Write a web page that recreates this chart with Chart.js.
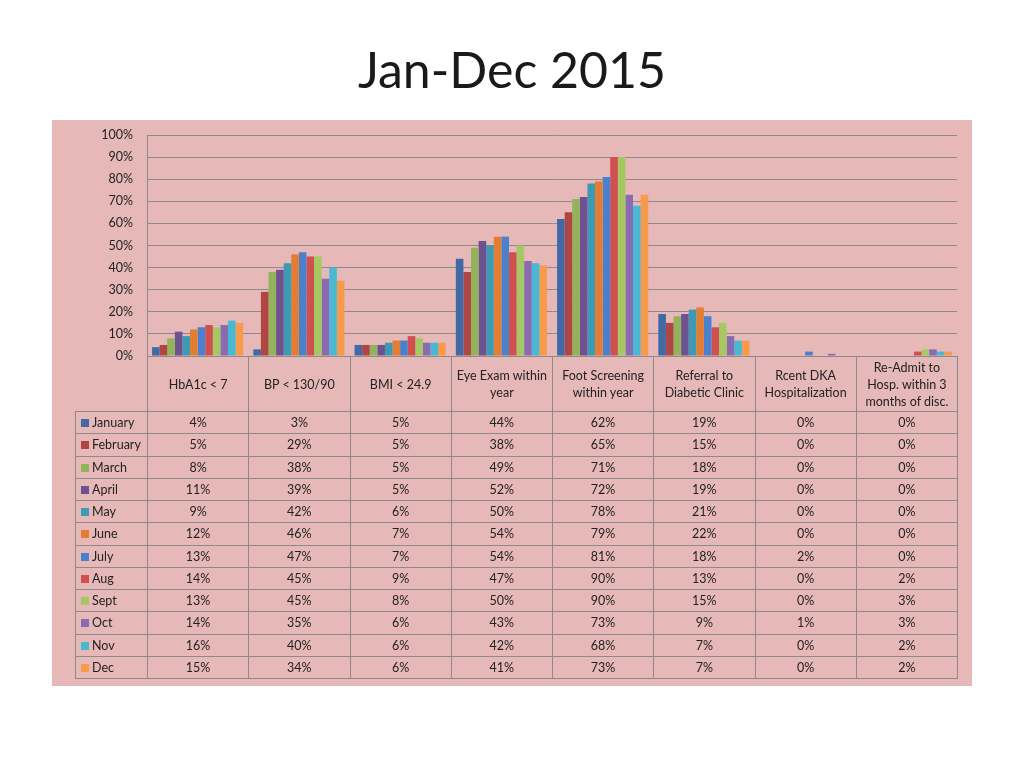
<!DOCTYPE html>
<html>
<head>
<meta charset="utf-8">
<script src="https://cdn.jsdelivr.net/npm/chart.js@4"></script>
<style>
  body { margin: 0; background: #ffffff; font-family: Lato, "Noto Sans", sans-serif; }
  #title { position: absolute; left: 0; width: 1024px; top: 39px; text-align: center;
           font-size: 50px; color: #1a1a1a; margin: 0; font-weight: normal; }
  #panel { position: absolute; left: 52px; top: 120px; width: 920px; height: 566px; background: #e6b9b8; }
  #barChart { position: absolute; left: 0; top: 0; }
  #dataTable { position: absolute; left: 23px; top: 236px; border-collapse: collapse; table-layout: fixed;
               font-size: 12.5px; color: #222; }
  #dataTable td { border: 1px solid #8f8a8a; text-align: center; padding: 0; }
  #dataTable tr.head td { height: 54px; line-height: 17px; }
  #dataTable tr.row td { height: 21.25px; }
  #dataTable td.key { text-align: left; padding-left: 5px; white-space: nowrap; }
  #dataTable tr.head td.key { border: none; }
  .sw { display: inline-block; width: 8px; height: 8px; margin-right: 3px; }
</style>
</head>
<body>
<h1 id="title">Jan-Dec 2015</h1>
<div id="panel">
  <canvas id="barChart" width="920" height="247"></canvas>
  <table id="dataTable"></table>
</div>
<script>
// 类别
const categories = [
  ['HbA1c < 7'],
  ['BP < 130/90'],
  ['BMI < 24.9'],
  ['Eye Exam within', 'year'],
  ['Foot Screening', 'within year'],
  ['Referral to', 'Diabetic Clinic'],
  ['Rcent DKA', 'Hospitalization'],
  ['Re-Admit to', 'Hosp. within 3', 'months of disc.']
];
const months = ['January', 'February', 'March', 'April', 'May', 'June', 'July', 'Aug', 'Sept', 'Oct', 'Nov', 'Dec'];

// 每月数据 (%)
const january  = [4, 3, 5, 44, 62, 19, 0, 0];
const february = [5, 29, 5, 38, 65, 15, 0, 0];
const march    = [8, 38, 5, 49, 71, 18, 0, 0];
const april    = [11, 39, 5, 52, 72, 19, 0, 0];
const may      = [9, 42, 6, 50, 78, 21, 0, 0];
const june     = [12, 46, 7, 54, 79, 22, 0, 0];
const july     = [13, 47, 7, 54, 81, 18, 2, 0];
const aug      = [14, 45, 9, 47, 90, 13, 0, 2];
const sept     = [13, 45, 8, 50, 90, 15, 0, 3];
const oct      = [14, 35, 6, 43, 73, 9, 1, 3];
const nov      = [16, 40, 6, 42, 68, 7, 0, 2];
const dec      = [15, 34, 6, 41, 73, 7, 0, 2];
const series = [january, february, march, april, may, june, july, aug, sept, oct, nov, dec];

const yTicks = [0, 10, 20, 30, 40, 50, 60, 70, 80, 90, 100];

// 颜色
const colors = [
  '#4169a5', // January
  '#b04644', // February
  '#93b35a', // March
  '#6d5190', // April
  '#3c9ab3', // May
  '#e47d34', // June
  '#4a80cc', // July
  '#d0504f', // Aug
  '#a6c862', // Sept
  '#8a6bb1', // Oct
  '#48b8d3', // Nov
  '#f89a4c'  // Dec
];

// 表格
const table = document.getElementById('dataTable');
let html = '<colgroup><col style="width:72px">';
categories.forEach(() => { html += '<col style="width:101.25px">'; });
html += '</colgroup><tr class="head"><td class="key"></td>';
categories.forEach(c => { html += '<td>' + c.join('<br>') + '</td>'; });
html += '</tr>';
months.forEach((m, i) => {
  html += '<tr class="row"><td class="key"><span class="sw" style="background:' + colors[i] + '"></span>' + m + '</td>';
  series[i].forEach(v => { html += '<td>' + v + '%</td>'; });
  html += '</tr>';
});
table.innerHTML = html;

const ctx = document.getElementById('barChart').getContext('2d');
new Chart(ctx, {
  type: 'bar',
  data: {
    labels: categories,
    datasets: months.map((m, i) => ({
      label: m,
      data: series[i],
      backgroundColor: colors[i],
      borderWidth: 0,
      barPercentage: 1.0,
      categoryPercentage: 0.9
    }))
  },
  options: {
    responsive: false,
    animation: false,
    layout: { padding: { top: 15, right: 15, bottom: 11, left: 0 } },
    scales: {
      x: { display: false },
      y: {
        min: 0,
        max: 100,
        afterBuildTicks: s => { s.ticks = yTicks.map(v => ({ value: v })); },
        afterFit: s => { s.width = 95; },
        ticks: {
          color: '#222',
          padding: 3,
          font: { family: 'Lato', size: 12.5 },
          callback: v => v + '%'
        },
        grid: { color: '#8f8a8a', tickColor: 'rgba(0,0,0,0)', tickLength: 11 },
        border: { color: '#8f8a8a' }
      }
    },
    plugins: {
      legend: { display: false },
      tooltip: { enabled: false }
    }
  }
});
</script>
</body>
</html>
